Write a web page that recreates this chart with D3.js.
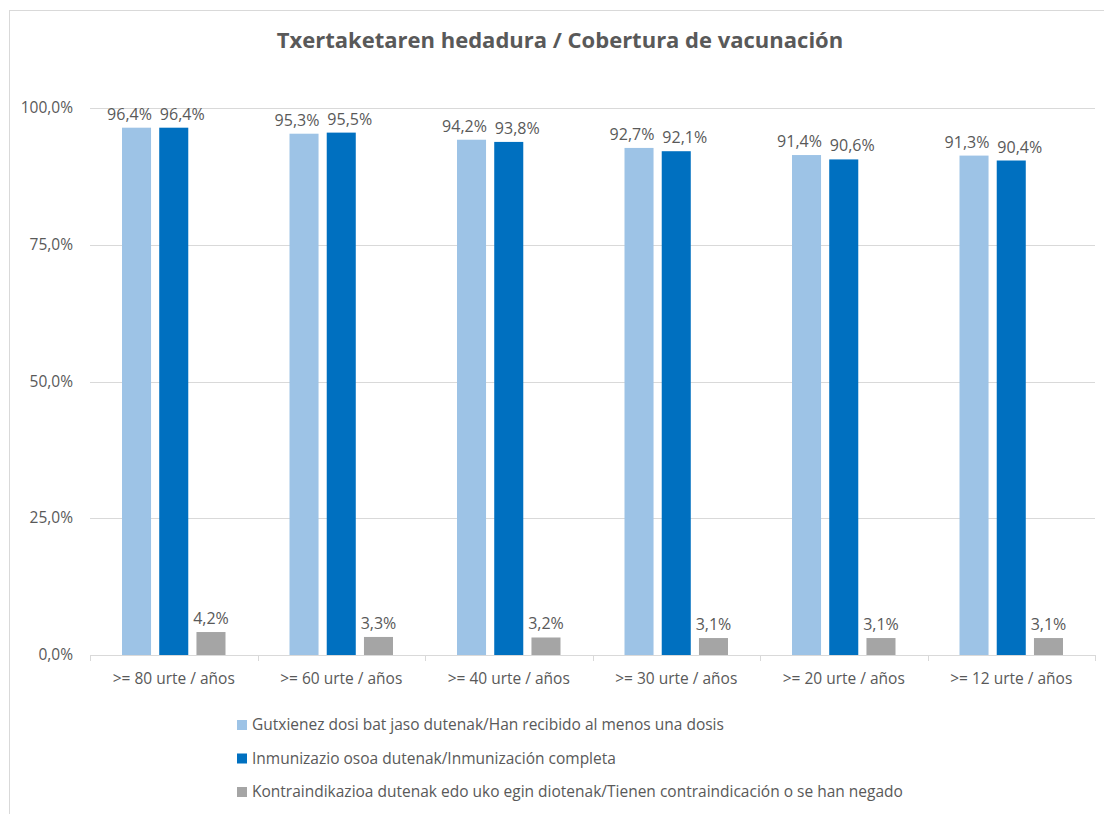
<!DOCTYPE html>
<html>
<head>
<meta charset="utf-8">
<script src="https://cdn.jsdelivr.net/npm/d3@7"></script>
<style>
  body { margin: 0; background: #fff; }
  text { font-family: "Open Sans", sans-serif; fill: #595959; }
</style>
</head>
<body>
<div id="chart"></div>
<script>
const categories = [">= 80 urte / años", ">= 60 urte / años", ">= 40 urte / años", ">= 30 urte / años", ">= 20 urte / años", ">= 12 urte / años"];
const seriesNames = [
  "Gutxienez dosi bat jaso dutenak/Han recibido al menos una dosis",
  "Inmunizazio osoa dutenak/Inmunización completa",
  "Kontraindikazioa dutenak edo uko egin diotenak/Tienen contraindicación o se han negado"
];
const atLeastOne = [96.4, 95.3, 94.2, 92.7, 91.4, 91.3];
const complete = [96.4, 95.5, 93.8, 92.1, 90.6, 90.4];
const refused = [4.2, 3.3, 3.2, 3.1, 3.1, 3.1];
const yTicks = [0, 25, 50, 75, 100];
const colors = ["#9DC3E6", "#0070C0", "#A5A5A5"];

const allSeries = [atLeastOne, complete, refused];
const width = 1104, height = 814;
const margin = { left: 90, right: 9, top: 108, bottom: 159 };
// labels of the two tall bars are pushed apart so they don't collide
const labelShift = [-7, 8.5, 0];

const svg = d3.select("#chart").append("svg")
  .attr("width", width)
  .attr("height", height);

// chart frame
svg.append("rect")
  .attr("x", 9.5).attr("y", 10.5)
  .attr("width", 1110).attr("height", 820)
  .attr("fill", "none").attr("stroke", "#D9D9D9");

svg.append("text")
  .attr("x", 560).attr("y", 48)
  .attr("text-anchor", "middle")
  .style("font-size", "22px").style("font-weight", "bold")
  .text("Txertaketaren hedadura / Cobertura de vacunación");

const x0 = d3.scaleBand()
  .domain(categories)
  .range([margin.left, width - margin.right])
  .paddingInner(0).paddingOuter(0);

const x1 = d3.scaleBand()
  .domain(d3.range(3))
  .range([32, x0.bandwidth() - 32])
  .paddingInner(0.22).paddingOuter(0);

const y = d3.scaleLinear()
  .domain([0, 100])
  .range([height - margin.bottom, margin.top]);

// gridlines
svg.append("g")
  .selectAll("line")
  .data(yTicks.filter(t => t > 0))
  .enter().append("line")
  .attr("x1", margin.left).attr("x2", width - margin.right)
  .attr("y1", d => Math.round(y(d)) + 0.5).attr("y2", d => Math.round(y(d)) + 0.5)
  .attr("stroke", "#D9D9D9");

// y labels
svg.append("g")
  .selectAll("text")
  .data(yTicks)
  .enter().append("text")
  .attr("x", 73).attr("y", d => y(d) + 5)
  .attr("text-anchor", "end")
  .style("font-size", "15.5px")
  .text(d => d.toFixed(1).replace(".", ",") + "%");

// bars
const groups = svg.append("g")
  .selectAll("g")
  .data(categories)
  .enter().append("g")
  .attr("transform", d => "translate(" + x0(d) + ",0)");

groups.selectAll("rect")
  .data((d, i) => allSeries.map((s, k) => ({ k: k, v: s[i] })))
  .enter().append("rect")
  .attr("x", d => x1(d.k))
  .attr("y", d => y(d.v))
  .attr("width", x1.bandwidth())
  .attr("height", d => y(0) - y(d.v))
  .attr("fill", d => colors[d.k]);

groups.selectAll("text.val")
  .data((d, i) => allSeries.map((s, k) => ({ k: k, v: s[i] })))
  .enter().append("text")
  .attr("class", "val")
  .attr("x", d => x1(d.k) + x1.bandwidth() / 2 + labelShift[d.k])
  .attr("y", d => y(d.v) - 8)
  .attr("text-anchor", "middle")
  .style("font-size", "16px")
  .text(d => d.v.toFixed(1).replace(".", ",") + "%");

// x axis
const xAxis = svg.append("g");
xAxis.append("line")
  .attr("x1", margin.left).attr("x2", width - margin.right)
  .attr("y1", y(0) + 0.5).attr("y2", y(0) + 0.5)
  .attr("stroke", "#D9D9D9");
xAxis.selectAll("line.tick")
  .data(categories.map(c => x0(c)).concat([width - margin.right]))
  .enter().append("line")
  .attr("class", "tick")
  .attr("x1", d => Math.round(d) + 0.5).attr("x2", d => Math.round(d) + 0.5)
  .attr("y1", y(0)).attr("y2", y(0) + 6)
  .attr("stroke", "#D9D9D9");
xAxis.selectAll("text")
  .data(categories)
  .enter().append("text")
  .attr("x", d => x0(d) + x0.bandwidth() / 2)
  .attr("y", y(0) + 29)
  .attr("text-anchor", "middle")
  .style("font-size", "15.5px")
  .text(d => d);

// legend
const legend = svg.append("g")
  .selectAll("g")
  .data(seriesNames)
  .enter().append("g")
  .attr("transform", (d, i) => "translate(237," + (720 + i * 33.5) + ")");
legend.append("rect")
  .attr("width", 10).attr("height", 10)
  .attr("fill", (d, i) => colors[i]);
legend.append("text")
  .attr("x", 15).attr("y", 10)
  .style("font-size", "15.5px")
  .text(d => d);
</script>
</body>
</html>
